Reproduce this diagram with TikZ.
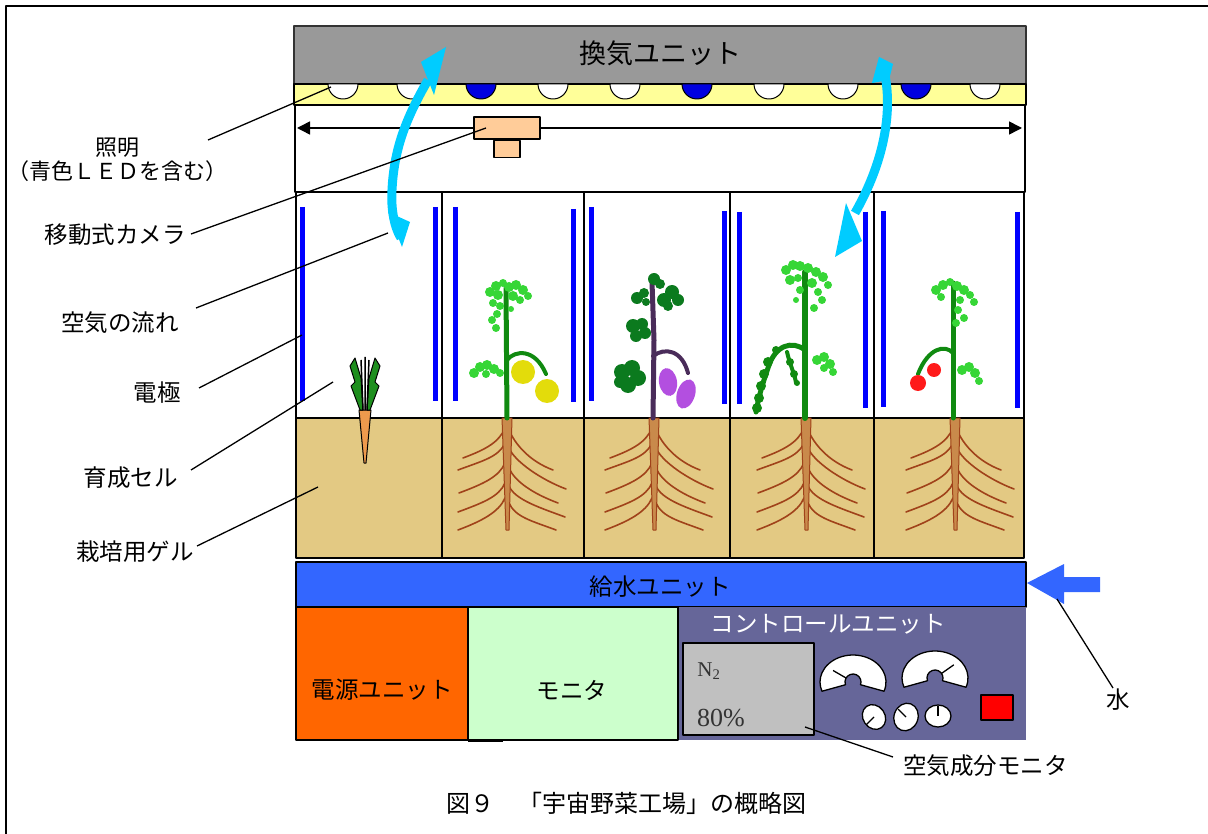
\documentclass[tikz,border=0pt]{standalone}
\usepackage{fontspec}
\newfontfamily\jp{Noto Sans CJK JP}
\newfontfamily\numserif{Liberation Serif}
\usetikzlibrary{arrows.meta,calc}

\definecolor{ventgray}{HTML}{999999}
\definecolor{ledstrip}{HTML}{FFFF99}
\definecolor{ledblue}{HTML}{0000E0}
\definecolor{camfill}{HTML}{FFCC99}
\definecolor{gel}{HTML}{E3C983}
\definecolor{elecblue}{HTML}{0000FF}
\definecolor{waterblue}{HTML}{3366FF}
\definecolor{powerorange}{HTML}{FF6600}
\definecolor{monitorgreen}{HTML}{CCFFCC}
\definecolor{ctrlpurple}{HTML}{666699}
\definecolor{gasgray}{HTML}{C0C0C0}
\definecolor{aircyan}{HTML}{00CCFF}
\definecolor{rootbrown}{HTML}{A0421A}
\definecolor{taproot}{HTML}{C98A4B}
\definecolor{stemgreen}{HTML}{108A10}
\definecolor{leaflight}{HTML}{36D636}
\definecolor{leafdark}{HTML}{0B7A1E}
\definecolor{eggstem}{HTML}{4A2C5A}
\definecolor{eggfruit}{HTML}{B34FE0}
\definecolor{pepper}{HTML}{E3DC0B}
\definecolor{tomatored}{HTML}{FF1A1A}
\definecolor{carrotroot}{HTML}{EE9A4D}
\definecolor{carrotleaf}{HTML}{1E8F1E}
\definecolor{numgray}{HTML}{333333}

\tikzset{
  lbl/.style={font=\jp\fontsize{23.5}{27}\selectfont, inner sep=0pt},
  leader/.style={draw=black, line width=1.3pt},
  cellline/.style={draw=black, line width=1.5pt},
  electrode/.style={draw=elecblue, line width=5pt},
  lateral/.style={draw=rootbrown, line width=1.6pt, line cap=round},
  air/.style={draw=aircyan, line width=9pt},
  stemline/.style={line width=5pt, line cap=round},
  rootsys/.pic={
    \foreach \sy/\ex/\ey in {10/-44/40, 25/-49/52, 45/-48/75, 65/-49/94, 80/-49/112}
      \draw[lateral] (-2,\sy) .. controls (-8,\sy+14) and (\ex+24,\ey-9) .. (\ex,\ey);
    \foreach \sy/\ex/\ey in {12/46/52, 30/59/71, 50/51/85, 68/58/99, 85/49/112}
      \draw[lateral] (2,\sy) .. controls (8,\sy+14) and (\ex-24,\ey-9) .. (\ex,\ey);
    \filldraw[fill=taproot, draw=rootbrown, line width=1pt]
      (-5,0) -- (5,0) -- (2,112) -- (-1,112) -- cycle;
  }
}

\begin{document}
\begin{tikzpicture}[x=1pt, y=-1pt, line join=round]
\useasboundingbox (0,0) rectangle (1208,834);

% outer frame
\draw[line width=2pt] (6,834) -- (6,6) -- (1208,6);

% housing between lights and cells
\draw[line width=1.3pt] (295,105) rectangle (1025,192);

% ventilation unit and lighting strip
\draw[fill=ventgray, draw=black!80, line width=1.5pt] (294,26) rectangle (1026,84);
\node[lbl, font=\jp\fontsize{27}{30}\selectfont] (vent) at (660,53) {換気ユニット};
\draw[fill=ledstrip, draw=black, line width=1.3pt] (294,84) rectangle (1026,105);
\foreach \lx/\lc in {343/white, 412/white, 481/ledblue, 553/white, 625/white,
                     697/ledblue, 769/white, 843/white, 916/ledblue, 985/white}
  \filldraw[fill=\lc, draw=black, line width=1pt]
    (\lx-15,84) arc[start angle=180, end angle=360, x radius=15pt, y radius=15pt] -- cycle;

% camera rail and camera
\coordinate (railL) at (297,128);
\coordinate (railR) at (1022,128);
\draw[line width=1.5pt, {Triangle[length=13pt,width=13pt]}-{Triangle[length=13pt,width=13pt]}] (railL) -- (railR);
\node[draw=black, fill=camfill, line width=1.3pt, minimum width=66pt, minimum height=22pt, inner sep=0pt] (cam) at (507,128) {};
\node[draw=black, fill=camfill, line width=1.3pt, minimum width=26pt, minimum height=17pt, inner sep=0pt, anchor=north] (camlens) at (cam.south) {};

% growing cells: air space above, gel below
\foreach \a/\b in {296/442, 442/584, 584/730, 730/874, 874/1024} {
  \draw[cellline, fill=white] (\a,192) rectangle (\b,418);
  \draw[cellline, fill=gel] (\a,418) rectangle (\b,558);
}

% electrodes
\foreach \ex/\ya/\yb in {302/207/401, 435/207/401, 455/207/401, 573/209/402,
                         591/207/401, 724/211/404, 739/212/404, 865/212/408,
                         883/211/407, 1017/212/408}
  \draw[electrode] (\ex,\ya) -- (\ex,\yb);

% root systems
\pic at (507,418) {rootsys};
\pic at (654,418) {rootsys};
\pic at (806,418) {rootsys};
\pic at (955,418) {rootsys};

% carrot
\filldraw[fill=carrotroot, draw=black, line width=1pt] (359,410) -- (371,410) -- (366,463) -- (364,463) -- cycle;
\filldraw[fill=carrotleaf, draw=black, line width=1pt]
  (360,410) -- (351,386) -- (355,382) -- (350,366) -- (355,358) -- (361,378) -- (363,410) -- cycle;
\filldraw[fill=carrotleaf, draw=black, line width=1pt]
  (370,410) -- (379,386) -- (375,382) -- (380,366) -- (375,358) -- (369,378) -- (367,410) -- cycle;
\draw[black, line width=1.5pt] (363,410) -- (361,360) (365,410) -- (365,357) (367,410) -- (369,360);

% pepper plant
\draw[stemgreen, stemline] (507,418) -- (506,288);
\draw[stemgreen, line width=4pt, line cap=round] (507,360) .. controls (515,350) and (535,348) .. (546,374);
\foreach \px/\py/\pr in {490/292/5pt, 496/286/5pt, 503/283/4pt, 509/287/5pt, 516/285/5pt, 523/290/5pt,
                         528/296/4pt, 498/295/5pt, 513/296/5pt, 520/300/4pt, 493/303/4pt, 500/306/4pt,
                         497/314/4pt, 492/320/4pt, 496/328/4pt, 511/309/3pt,
                         474/373/5pt, 480/367/5pt, 487/365/5pt, 494/369/5pt, 500/373/4pt, 486/374/4pt}
  \fill[leaflight] (\px,\py) circle[radius=\pr];
\fill[pepper] (523,372) circle[radius=12pt];
\fill[pepper] (547,391) circle[radius=12pt];

% eggplant
\draw[eggstem, stemline] (653,418) -- (654,340) -- (652,282);
\draw[eggstem, line width=4pt, line cap=round] (653,356) .. controls (665,347) and (682,350) .. (688,373);
\foreach \px/\py/\pr in {622/372/8pt, 632/368/8pt, 638/378/8pt, 628/385/8pt, 620/382/6pt,
                         633/326/7pt, 642/324/6pt, 645/333/6pt, 636/336/6pt,
                         664/300/7pt, 672/292/7pt, 678/300/6pt, 668/306/5pt,
                         637/298/6pt, 644/293/5pt, 646/302/4pt,
                         654/279/6pt, 660/284/5pt}
  \fill[leafdark] (\px,\py) circle[radius=\pr];
\fill[eggfruit, rotate around={10:(668,382)}] (668,382) ellipse[x radius=9pt, y radius=14pt];
\fill[eggfruit, rotate around={-18:(686,394)}] (686,394) ellipse[x radius=9pt, y radius=15pt];

% cucumber plant
\draw[stemgreen, line width=6pt, line cap=round] (805,418) -- (805,272);
\draw[stemgreen, line width=5pt, line cap=round] (805,350) .. controls (792,340) and (775,345) .. (768,368) .. controls (762,385) and (758,400) .. (756,412);
\draw[stemgreen, line width=4pt, line cap=round] (787,352) .. controls (790,365) and (795,375) .. (796,383);
\foreach \px/\py/\pr in {768/362/5pt, 764/374/5pt, 761/386/5pt, 759/398/5pt, 757/408/5pt,
                         776/350/4pt, 790/362/4pt, 794/374/4pt, 797/383/3pt}
  \fill[stemgreen] (\px,\py) circle[radius=\pr];
\foreach \px/\py/\pr in {786/270/5pt, 793/265/5pt, 800/266/5pt, 808/268/5pt, 816/272/5pt, 823/277/5pt,
                         828/285/4pt, 790/280/5pt, 798/278/4pt, 812/283/5pt, 818/292/4pt, 822/300/4pt,
                         814/308/4pt, 800/290/4pt, 796/300/3pt,
                         817/360/5pt, 824/357/5pt, 830/364/5pt, 833/372/4pt, 824/368/4pt}
  \fill[leaflight] (\px,\py) circle[radius=\pr];

% tomato plant
\draw[stemgreen, stemline] (953,418) -- (953,283);
\draw[stemgreen, line width=4pt, line cap=round] (953,353) .. controls (945,344) and (928,348) .. (918,374);
\foreach \px/\py/\pr in {936/290/5pt, 943/285/5pt, 950/282/4pt, 957/286/5pt, 964/290/5pt, 970/295/4pt,
                         974/302/4pt, 941/297/4pt, 960/300/4pt, 958/310/4pt, 964/318/4pt, 956/323/4pt,
                         962/370/5pt, 969/367/5pt, 975/373/5pt, 979/381/4pt}
  \fill[leaflight] (\px,\py) circle[radius=\pr];
\fill[tomatored] (934,370) circle[radius=7pt];
\fill[tomatored] (918,383) circle[radius=8pt];

% water supply unit and inflow arrow
\draw[fill=waterblue, draw=black, line width=1.5pt] (296,562) rectangle (1026,607);
\node[lbl] (water) at (660,587) {給水ユニット};
\fill[waterblue] (1027,583) -- (1064,564) -- (1064,577) -- (1100,577) -- (1100,592)
  -- (1064,592) -- (1064,604) -- cycle;

% bottom units
\fill[ctrlpurple] (678,607) rectangle (1026,740);
\draw[fill=powerorange, draw=black, line width=1.5pt] (296,607) rectangle (468,740);
\draw[fill=monitorgreen, draw=black, line width=1.5pt] (468,607) rectangle (678,740);
\draw[line width=2pt] (468,741) -- (503,741);
\node[lbl] (power) at (382,690) {電源ユニット};
\node[lbl] (monitor) at (572,690) {モニタ};
\node[lbl, text=white] (ctrl) at (828,624) {コントロールユニット};

% air composition display
\draw[fill=gasgray, draw=black, line width=1.5pt] (683,643) rectangle (814,735);
\node[font=\numserif\fontsize{21}{24}\selectfont, text=numgray, inner sep=0pt] (ntwo) at (709,671) {N\textsubscript{2}};
\node[font=\numserif\fontsize{26}{30}\selectfont, text=numgray, inner sep=0pt] (pct) at (721,718) {80\%};

% dials
\coordinate (g1) at (853,682);
\coordinate (g2) at (935,678);
\foreach \g/\na in {g1/150, g2/35} {
  \filldraw[fill=white, draw=black, line width=1.3pt]
    ($(\g)+(-20:33pt and 27pt)$) arc[start angle=-20, end angle=200, x radius=33pt, y radius=27pt]
    -- ($(\g)+(200:8pt)$) arc[start angle=200, end angle=-20, radius=8pt] -- cycle;
  \draw[black, line width=1.3pt] ($(\g)+(\na:8pt)$) -- ($(\g)+(\na:23pt)$);
}
\coordinate (d1) at (874,717);
\coordinate (d2) at (906,717);
\coordinate (d3) at (938,716);
\filldraw[fill=white, draw=black, line width=1.3pt, rotate around={35:(d1)}] (d1) ellipse[x radius=11pt, y radius=13pt];
\filldraw[fill=white, draw=black, line width=1.3pt, rotate around={-20:(d2)}] (d2) ellipse[x radius=12pt, y radius=14pt];
\filldraw[fill=white, draw=black, line width=1.3pt] (d3) ellipse[x radius=13pt, y radius=11pt];
\draw[black, line width=1.3pt] (d1) -- ($(d1)+(225:11pt)$);
\draw[black, line width=1.3pt] (d2) -- ($(d2)+(135:11pt)$);
\draw[black, line width=1.3pt] (d3) -- ($(d3)+(90:10pt)$);
\draw[fill=red, draw=black, line width=1.3pt] (981,695) rectangle (1013,720);

% air flow arrows
\fill[aircyan] (388,212) -- (410,222) -- (402,247) -- cycle;
\draw[air] (401,238) .. controls (393,225) and (391,205) .. (392,190) .. controls (394,150) and (405,120) .. (428,80);
\fill[aircyan] (446,47) -- (421,62) -- (434,95) -- cycle;
\fill[aircyan] (872,83) -- (879,57) -- (893,64) -- (889,80) -- cycle;
\draw[air] (884,70) .. controls (893,110) and (885,160) .. (855,213);
\fill[aircyan] (835,257) -- (846,203) -- (862,241) -- cycle;

% labels with leader lines
\node[lbl, align=center, font=\jp\fontsize{22}{24.5}\selectfont] (lblled) at (118,160) {照明\\（青色ＬＥＤを含む）};
\node[lbl, anchor=east] (lblcam) at (186,235) {移動式カメラ};
\node[lbl, anchor=east] (lblair) at (179,323) {空気の流れ};
\node[lbl, anchor=east] (lblelec) at (181,393) {電極};
\node[lbl, anchor=east] (lblcell) at (178,478) {育成セル};
\node[lbl, anchor=east] (lblgel) at (194,552) {栽培用ゲル};
\node[lbl] (lblwater) at (1118,700) {水};
\node[lbl, anchor=west] (lblgas) at (903,766) {空気成分モニタ};

\coordinate (ledsrc) at (208,140);   \coordinate (ledtip) at (331,87);
\coordinate (camsrc) at (191,234);   \coordinate (camtip) at (486,128);
\coordinate (airsrc) at (196,308);   \coordinate (airtip) at (388,233);
\coordinate (elecsrc) at (199,388);  \coordinate (electip) at (302,335);
\coordinate (cellsrc) at (191,470);  \coordinate (celltip) at (333,382);
\coordinate (gelsrc) at (197,546);   \coordinate (geltip) at (318,487);
\coordinate (watersrc) at (1113,688); \coordinate (watertip) at (1057,599);
\coordinate (gassrc) at (893,757);   \coordinate (gastip) at (805,727);
\foreach \s/\t in {ledsrc/ledtip, camsrc/camtip, airsrc/airtip, elecsrc/electip,
                   cellsrc/celltip, gelsrc/geltip, watersrc/watertip, gassrc/gastip}
  \draw[leader] (\s) -- (\t);

% caption
\node[lbl, font=\jp\fontsize{24}{27}\selectfont] (caption) at (626,803) {図９　「宇宙野菜工場」の概略図};
\end{tikzpicture}
\end{document}
